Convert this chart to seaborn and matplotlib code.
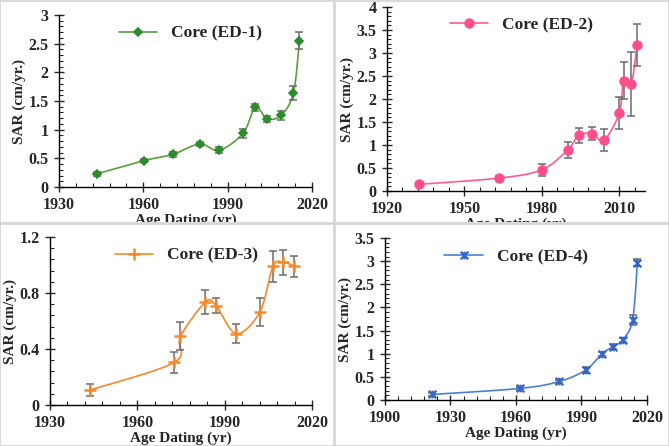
import numpy as np
import matplotlib
matplotlib.use('Agg')
import matplotlib.pyplot as plt
import seaborn as sns
from matplotlib.path import Path
from matplotlib.lines import Line2D
from matplotlib.patches import Rectangle
from matplotlib.transforms import Bbox, TransformedBbox
from matplotlib.ticker import MultipleLocator, FixedLocator, FuncFormatter

# data
ed1_year = [1943.4, 1960.2, 1970.5, 1980.0, 1987.0, 1995.5, 1999.9, 2004.0, 2009.0, 2013.4, 2015.5]
ed1_sar = [0.23, 0.46, 0.57, 0.75, 0.64, 0.94, 1.39, 1.19, 1.25, 1.64, 2.55]
ed1_err = [0.03, 0.03, 0.04, 0.03, 0.05, 0.08, 0.06, 0.05, 0.08, 0.12, 0.15]

ed2_year = [1932.3, 1963.3, 1979.9, 1990.0, 1994.4, 1999.6, 2004.0, 2010.0, 2011.7, 2014.7, 2016.9]
ed2_sar = [0.145, 0.28, 0.46, 0.89, 1.21, 1.25, 1.10, 1.69, 2.40, 2.33, 3.17]
ed2_err = [0.02, 0.04, 0.13, 0.18, 0.17, 0.15, 0.24, 0.35, 0.41, 0.70, 0.45]

ed3_year = [1943.8, 1972.7, 1974.8, 1983.4, 1987.0, 1994.0, 2002.1, 2006.6, 2010.2, 2013.9]
ed3_sar = [0.107, 0.305, 0.49, 0.735, 0.71, 0.51, 0.665, 0.99, 1.02, 0.99]
ed3_err = [0.045, 0.077, 0.10, 0.085, 0.055, 0.07, 0.10, 0.11, 0.09, 0.075]

ed4_year = [1921.7, 1961.8, 1979.8, 1992.0, 1999.2, 2004.3, 2008.9, 2013.4, 2015.6]
ed4_sar = [0.12, 0.25, 0.40, 0.65, 0.99, 1.15, 1.30, 1.73, 2.97]
ed4_err = [0.04, 0.04, 0.04, 0.07, 0.04, 0.05, 0.04, 0.10, 0.07]

sns.set_style("ticks")
plt.rcParams['font.family'] = ['Liberation Serif', 'DejaVu Serif']
plt.rcParams['font.weight'] = 'bold'

W, H = 669, 446
fig = plt.figure(figsize=(W / 100, H / 100), dpi=100)

# excel-like star marker
star = Path([(-1, -1), (1, 1), (-1, 1), (1, -1), (0, -1), (0, 1)],
            [Path.MOVETO, Path.LINETO, Path.MOVETO, Path.LINETO, Path.MOVETO, Path.LINETO])


def smooth(x, y, xr, yr, wpx, hpx, n=30):
    # bezier smoothing in screen space like excel smoothed lines
    px = (np.array(x) - xr[0]) / (xr[1] - xr[0]) * wpx
    py = (np.array(y) - yr[0]) / (yr[1] - yr[0]) * hpx
    P = np.column_stack([px, py])
    P = np.vstack([P[0], P, P[-1]])
    out = []
    t = np.linspace(0, 1, n)[:, None]
    for i in range(1, len(P) - 2):
        p0, p3 = P[i], P[i + 1]
        p1 = p0 + (P[i + 1] - P[i - 1]) / 6
        p2 = p3 - (P[i + 2] - P[i]) / 6
        seg = (1 - t) ** 3 * p0 + 3 * (1 - t) ** 2 * t * p1 + 3 * (1 - t) * t ** 2 * p2 + t ** 3 * p3
        out.append(seg)
    S = np.vstack(out)
    sx = S[:, 0] / wpx * (xr[1] - xr[0]) + xr[0]
    sy = S[:, 1] / hpx * (yr[1] - yr[0]) + yr[0]
    return sx, sy


panels = [
    dict(box=(59, 312, 15, 187), frame=(0, 0), x=ed1_year, y=ed1_sar, e=ed1_err, xr=(1930, 2020), yr=(0, 3), ystep=0.5,
         label='Core (ED-1)', lc='#5a9e3a', mc='#2a8c2a', marker='D', ms=4.5, mew=1.2, leg=(0.52, 1.03)),
    dict(box=(387, 645, 7, 191), frame=(335, 0), x=ed2_year, y=ed2_sar, e=ed2_err, xr=(1920, 2020), yr=(0, 4), ystep=0.5,
         label='Core (ED-2)', lc='#ff5c93', mc='#ff4f8a', marker='o', ms=6.5, mew=1, leg=(0.52, 1.03)),
    dict(box=(50, 312, 237, 405), frame=(0, 223), x=ed3_year, y=ed3_sar, e=ed3_err, xr=(1930, 2020), yr=(0, 1.2), ystep=0.4,
         label='Core (ED-3)', lc='#f7892a', mc='#f7892a', marker='+', ms=9, mew=1.8, leg=(0.52, 1.03)),
    dict(box=(385, 647, 238, 400), frame=(335, 223), x=ed4_year, y=ed4_sar, e=ed4_err, xr=(1900, 2020), yr=(0, 3.5), ystep=0.5,
         label='Core (ED-4)', lc='#4a7fd6', mc='#3366cc', marker=star, ms=5.5, mew=1.6, leg=(0.5, 1.03)),
]

for p in panels:
    l, r, t, b = p['box']
    ax = fig.add_axes([l / W, 1 - b / H, (r - l) / W, (b - t) / H])
    sx, sy = smooth(p['x'], p['y'], p['xr'], p['yr'], r - l, b - t)
    sns.lineplot(x=sx, y=sy, sort=False, estimator=None, color=p['lc'], lw=1.2, ax=ax, zorder=2)
    ax.errorbar(p['x'], p['y'], yerr=p['e'], fmt='none', ecolor='#6b6b6b', elinewidth=1.1,
                capsize=3, capthick=1.1, zorder=3)
    ax.plot(p['x'], p['y'], ls='none', marker=p['marker'], ms=p['ms'], color=p['mc'],
            mew=p['mew'], zorder=4)
    ax.set_xlim(*p['xr'])
    ax.set_ylim(*p['yr'])
    ax.xaxis.set_major_locator(FixedLocator(np.arange(p['xr'][0], p['xr'][1] + 1, 30)))
    ax.xaxis.set_minor_locator(FixedLocator(np.arange(p['xr'][0], p['xr'][1] + 1, 6)))
    ax.yaxis.set_major_locator(MultipleLocator(p['ystep']))
    ax.yaxis.set_minor_locator(MultipleLocator(p['ystep'] / 5))
    ax.yaxis.set_major_formatter(FuncFormatter(lambda v, pos: f"{round(v, 2):g}"))
    ax.xaxis.set_major_formatter(FuncFormatter(lambda v, pos: f"{int(round(v))}"))
    ax.tick_params(which='major', direction='inout', length=7, width=1, labelsize=11.5)
    ax.tick_params(axis='x', which='major', pad=4)
    ax.tick_params(axis='y', which='major', pad=4)
    ax.tick_params(which='minor', direction='in', length=3, width=0.8)
    for lab in ax.get_xticklabels() + ax.get_yticklabels():
        lab.set_fontweight('bold')
    sns.despine(ax=ax)
    for s in ('left', 'bottom'):
        ax.spines[s].set_linewidth(1)
        ax.spines[s].set_color('black')
    ax.set_ylabel('SAR (cm/yr.)', fontsize=11, fontweight='bold', labelpad=2)
    ax.set_xlabel('Age Dating (yr)', fontsize=11, fontweight='bold', labelpad=0)
    # the top panels cut the x label at their lower edge
    fx, fy = p['frame']
    clip = TransformedBbox(Bbox([[fx / W, 1 - (fy + 222) / H], [(fx + 334) / W, 1 - fy / H]]), fig.transFigure)
    ax.xaxis.label.set_clip_box(clip)
    ax.xaxis.label.set_clip_on(True)
    h = Line2D([], [], color=p['lc'], lw=1.2, marker=p['marker'], ms=p['ms'], mfc=p['mc'], mec=p['mc'], mew=p['mew'])
    ax.legend([h], [p['label']], loc='upper center', bbox_to_anchor=p['leg'], frameon=False,
              prop={'weight': 'bold', 'size': 12.5}, handlelength=2.2, handletextpad=0.8)

# panel frames
for (x0, y0) in [(0, 0), (335, 0), (0, 223), (335, 223)]:
    fig.add_artist(Rectangle((x0 / W, 1 - (y0 + 223) / H), 334 / W, 222 / H, transform=fig.transFigure,
                             fill=False, ec='#d4d4d4', lw=1.2))

fig.savefig('out.png', dpi=100)
